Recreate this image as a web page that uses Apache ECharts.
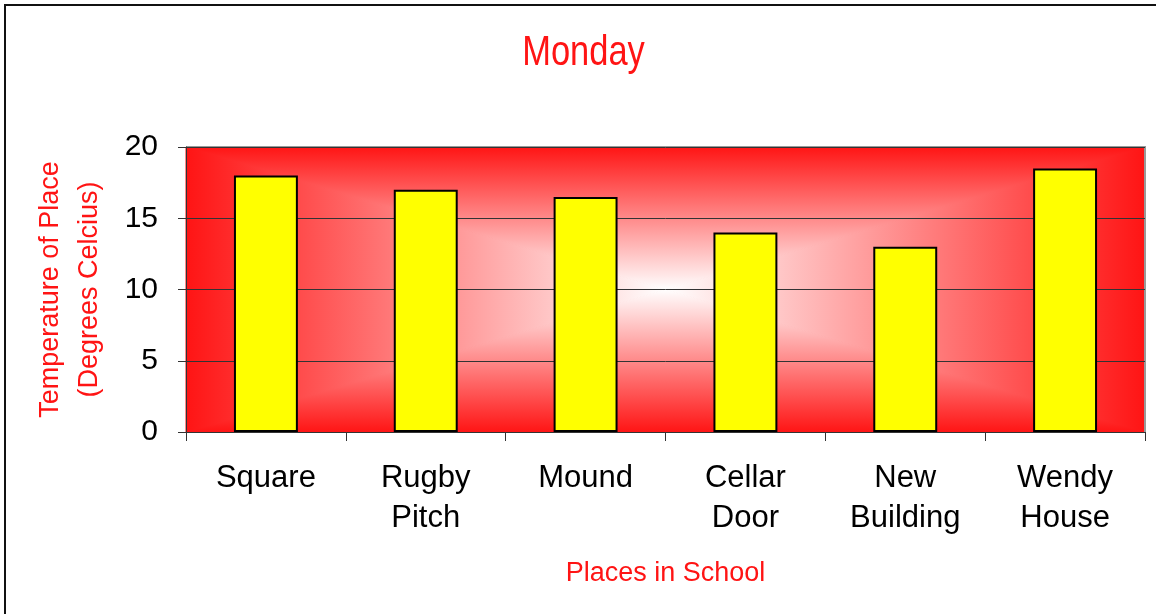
<!DOCTYPE html>
<html>
<head>
<meta charset="utf-8">
<script src="https://cdn.jsdelivr.net/npm/echarts@6/dist/echarts.min.js"></script>
<style>
  html, body { margin: 0; padding: 0; background: #fff; }
  #chart { width: 1156px; height: 614px; }
</style>
</head>
<body>
<div id="chart"></div>
<script>
// values
var places = ['Square', 'Rugby\nPitch', 'Mound', 'Cellar\nDoor', 'New\nBuilding', 'Wendy\nHouse'];
var temps = [18, 17, 16.5, 14, 13, 18.5];
var yTicks = [0, 5, 10, 15, 20];

var gridLeft = 186, gridTop = 147, gridRight = 11, gridBottom = 182;
var W = 1156, H = 614;
var L = gridLeft, T = gridTop, R = W - gridRight, B = H - gridBottom;
var cx = (L + R) / 2, cy = (T + B) / 2;

var red = '#ff1414';
var funFont = '"Comic Sans MS", "Liberation Sans", sans-serif';

function lg(x0, y0, x1, y1) {
    return new echarts.graphic.LinearGradient(x0, y0, x1, y1, [
        {offset: 0, color: red},
        {offset: 1, color: '#ffffff'}
    ]);
}

// one quarter of the "from centre" fill, stroked with itself to hide seams
function wedge(points, g) {
    return {type: 'polygon', z: -11, shape: {points: points},
        style: {fill: g, stroke: g, lineWidth: 1}};
}

var myChart = echarts.init(document.getElementById('chart'), null, {renderer: 'canvas'});

var option = {
    backgroundColor: '#fff',
    animation: false,
    graphic: [
        // outer frame (only top / left edges are visible)
        {type: 'rect', z: -20, shape: {x: 5, y: 5, width: 1300, height: 800},
            style: {fill: 'none', stroke: '#111', lineWidth: 2}},
        // title, narrowed like the original
        {type: 'text', z: 5, x: (L + R) / 2 - 82, y: 32, scaleX: 0.82,
            style: {text: 'Monday', fill: red, fontSize: 42, textAlign: 'center',
                fontFamily: '"Liberation Sans", sans-serif'}},
        // rectangular "from centre" fill: red edges to white middle
        {type: 'rect', z: -12, shape: {x: L, y: T, width: R - L, height: B - T}, style: {fill: red}},
        wedge([[L, T], [R, T], [cx, cy]], lg(0, 0, 0, 1)),
        wedge([[L, B], [R, B], [cx, cy]], lg(0, 1, 0, 0)),
        wedge([[L, T], [L, B], [cx, cy]], lg(0, 0, 1, 0)),
        wedge([[R, T], [R, B], [cx, cy]], lg(1, 0, 0, 0)),
        // light grey top / right edge of the plot area
        {type: 'polyline', z: -8, shape: {points: [[L, T], [R, T], [R, B]]},
            style: {stroke: '#999', lineWidth: 2, fill: 'none'}}
    ],
    grid: {
        left: gridLeft,
        top: gridTop,
        right: gridRight,
        bottom: gridBottom,
        containLabel: false,
        outerBoundsMode: 'none'
    },
    xAxis: {
        type: 'category',
        data: places,
        name: 'Places in School',
        nameLocation: 'middle',
        nameGap: 128,
        nameTextStyle: {color: red, fontFamily: funFont, fontSize: 27},
        axisLine: {lineStyle: {color: '#333', width: 1}},
        axisTick: {show: true, length: 9, alignWithLabel: false, lineStyle: {color: '#333'}},
        axisLabel: {
            color: '#000',
            fontFamily: '"Liberation Sans", Arial, sans-serif',
            fontSize: 31,
            lineHeight: 40,
            margin: 26,
            interval: 0
        }
    },
    yAxis: {
        type: 'value',
        min: yTicks[0],
        max: yTicks[yTicks.length - 1],
        interval: yTicks[1] - yTicks[0],
        name: 'Temperature of Place\n(Degrees Celcius)',
        nameLocation: 'middle',
        nameGap: 77,
        nameRotate: 90,
        nameTextStyle: {color: red, fontFamily: funFont, fontSize: 27, lineHeight: 39},
        axisLine: {show: true, lineStyle: {color: '#333', width: 1}},
        axisTick: {show: true, length: 8, lineStyle: {color: '#333'}},
        axisLabel: {
            color: '#000',
            fontFamily: '"Liberation Sans", Arial, sans-serif',
            fontSize: 30,
            margin: 28
        },
        splitLine: {show: true, lineStyle: {color: '#333', width: 1}}
    },
    series: [{
        type: 'bar',
        data: temps,
        barWidth: '40%',
        itemStyle: {
            color: '#ffff00',
            borderColor: '#000',
            borderWidth: 2
        }
    }]
};

myChart.setOption(option);
window.addEventListener('resize', function () {
    myChart.resize();
});
</script>
</body>
</html>
